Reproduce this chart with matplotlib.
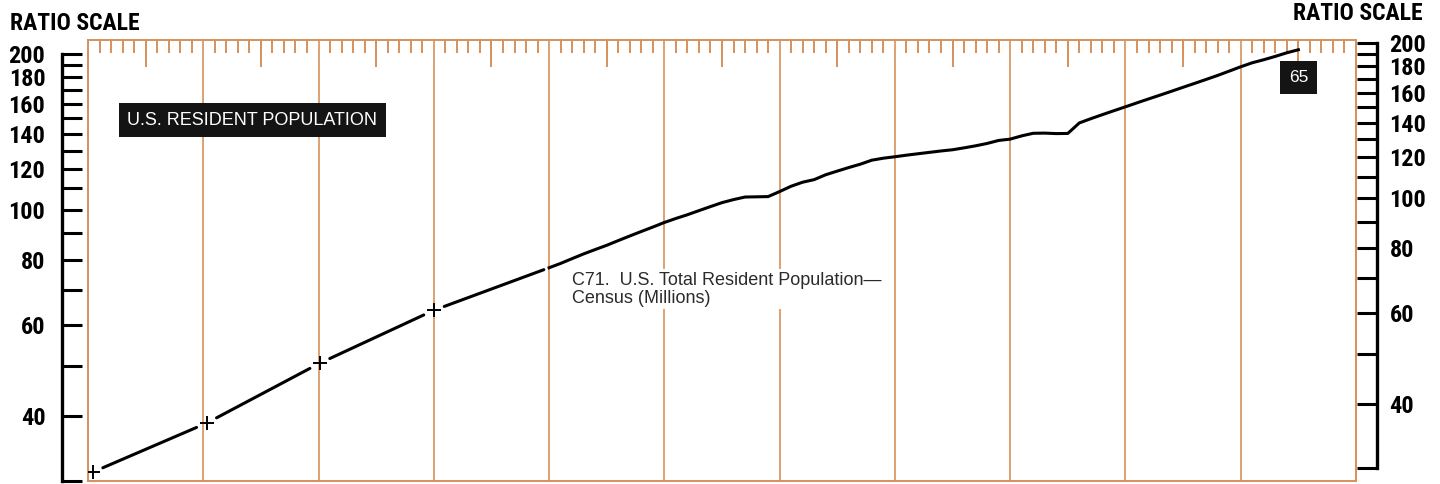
import numpy as np
import matplotlib.pyplot as plt
from matplotlib.ticker import MultipleLocator, FixedLocator, NullLocator, FixedFormatter

# census points (crosses) 1860-1890
census_years = [1860.4, 1870.3, 1880.1, 1890.0]
census_pop = [31.2, 38.8, 50.6, 64.0]

# annual estimates 1900-1965 (millions)
years = list(range(1900, 1966))
pop = [77.3, 78.8, 80.5, 82.2, 83.8, 85.4, 87.2, 89.0, 90.8, 92.6,
       94.5, 96.2, 97.8, 99.6, 101.4, 103.2, 104.6, 105.8, 105.9, 106.0,
       108.4, 111.0, 113.0, 114.3, 116.8, 118.7, 120.6, 122.4, 124.6, 125.7,
       126.5, 127.4, 128.2, 129.0, 129.8, 130.5, 131.6, 132.8, 134.2, 136.0,
       136.8, 138.8, 140.4, 140.5, 140.2, 140.3, 147.0, 149.8, 152.5, 155.2,
       157.9, 160.7, 163.5, 166.3, 169.2, 172.2, 175.2, 178.3, 181.5, 185.0,
       188.6, 192.0, 194.6, 197.5, 200.7, 203.4]

decades = list(range(1860, 1971, 10))
half_decades = list(range(1865, 1970, 10))
scale_ticks = list(range(30, 201, 10))
scale_labels = [str(v) if v % 20 == 0 else '' for v in scale_ticks]

W, H = 1440, 484
ORANGE = '#d6915c'
NARROW = ['Roboto Condensed', 'Open Sans Condensed', 'Liberation Sans Narrow', 'Roboto', 'DejaVu Sans']
PLAIN = ['Liberation Sans', 'DejaVu Sans']
YLIM = (30, 212.4)


def box(x0, y0, x1, y1):
    # pixel box -> figure fraction
    return [x0 / W, 1 - y1 / H, (x1 - x0) / W, (y1 - y0) / H]


fig = plt.figure(figsize=(W / 100, H / 100), dpi=100)

# main grid
ax = fig.add_axes(box(88, 40, 1356, 481))
ax.set_yscale('log')
ax.set_xlim(1860, 1970)
ax.set_ylim(*YLIM)
ax.yaxis.set_major_locator(NullLocator())
ax.yaxis.set_minor_locator(NullLocator())
ax.set_xticks(decades)
ax.xaxis.set_minor_locator(MultipleLocator(1))
ax.tick_params(axis='x', which='major', length=0, labelbottom=False)
ax.tick_params(axis='x', which='minor', top=True, bottom=False, direction='in',
               length=9.5, width=1.4, color=ORANGE)
ax.grid(axis='x', which='major', color=ORANGE, lw=1.2)
ax.set_axisbelow(True)
for s in ax.spines.values():
    s.set_color(ORANGE)
    s.set_linewidth(1.4)

sec = ax.secondary_xaxis('top')
sec.set_xticks(half_decades)
sec.tick_params(direction='in', length=19.5, width=1.4, color=ORANGE, labeltop=False)
sec.spines['top'].set_visible(False)

# census segments with breaks at the crosses
pts = list(zip(census_years, census_pop)) + [(years[0], pop[0])]
for i in range(len(pts) - 1):
    sb = 8 if i < len(pts) - 2 else 4
    ax.annotate('', xy=pts[i + 1], xytext=pts[i],
                arrowprops=dict(arrowstyle='-', color='k', lw=2.2,
                                shrinkA=8, shrinkB=sb), zorder=4)
ax.plot(census_years, census_pop, '+', ms=10, mew=1.4, color='k', zorder=5)
ax.plot(years, pop, color='k', lw=2.2, solid_joinstyle='round', zorder=4)

ax.text(252.5 / W, 1 - 120 / H, 'U.S. RESIDENT POPULATION', transform=fig.transFigure,
        ha='center', va='center', color='white', fontsize=13, family=PLAIN,
        bbox=dict(boxstyle='square,pad=0.45', fc='#141414', ec='none'), zorder=6)

ax.annotate('65', xy=(years[-1], pop[-1]), xytext=(0, -20), textcoords='offset points',
            ha='center', va='center', color='white', fontsize=12.5, family=PLAIN,
            bbox=dict(boxstyle='square,pad=0.5', fc='#141414', ec='none'), zorder=6)

ax.text(572 / W, 1 - 272 / H, 'C71.  U.S. Total Resident Population\u2014\nCensus (Millions)',
        transform=fig.transFigure, ha='left', va='top', fontsize=13, family=PLAIN,
        color='#2b2b2b', linespacing=1.05,
        bbox=dict(boxstyle='square,pad=0.15', fc='white', ec='none'), zorder=3)


def scale_axis(rect, side):
    a = fig.add_axes(rect)
    a.set_yscale('log')
    a.set_ylim(*YLIM)
    a.patch.set_visible(False)
    a.set_xticks([])
    for k, s in a.spines.items():
        s.set_visible(k == side)
    a.spines[side].set_linewidth(2.4)
    a.spines[side].set_bounds(30, 200)
    a.yaxis.set_major_locator(FixedLocator(scale_ticks))
    a.yaxis.set_major_formatter(FixedFormatter(scale_labels))
    a.yaxis.set_minor_locator(NullLocator())
    if side == 'right':
        a.yaxis.tick_right()
    a.tick_params(axis='y', direction='in', length=14.4, width=2.2, pad=9 if side == 'right' else 12,
                  labelsize=17.5)
    for t in a.get_yticklabels():
        t.set_family(NARROW)
        t.set_fontweight('bold')
        t.set_fontstretch('condensed')
    return a


axl = scale_axis(box(62, 40, 63, 481), 'left')
axr = scale_axis(box(1376, 29.4, 1377, 468), 'right')

fig.text(10 / W, 1 - 30 / H, 'RATIO SCALE', ha='left', va='baseline', fontsize=17,
         fontweight='bold', fontstretch='condensed', family=NARROW)
fig.text(1423 / W, 1 - 20 / H, 'RATIO SCALE', ha='right', va='baseline', fontsize=17,
         fontweight='bold', fontstretch='condensed', family=NARROW)

fig.savefig('out.png', dpi=100, facecolor='white')
